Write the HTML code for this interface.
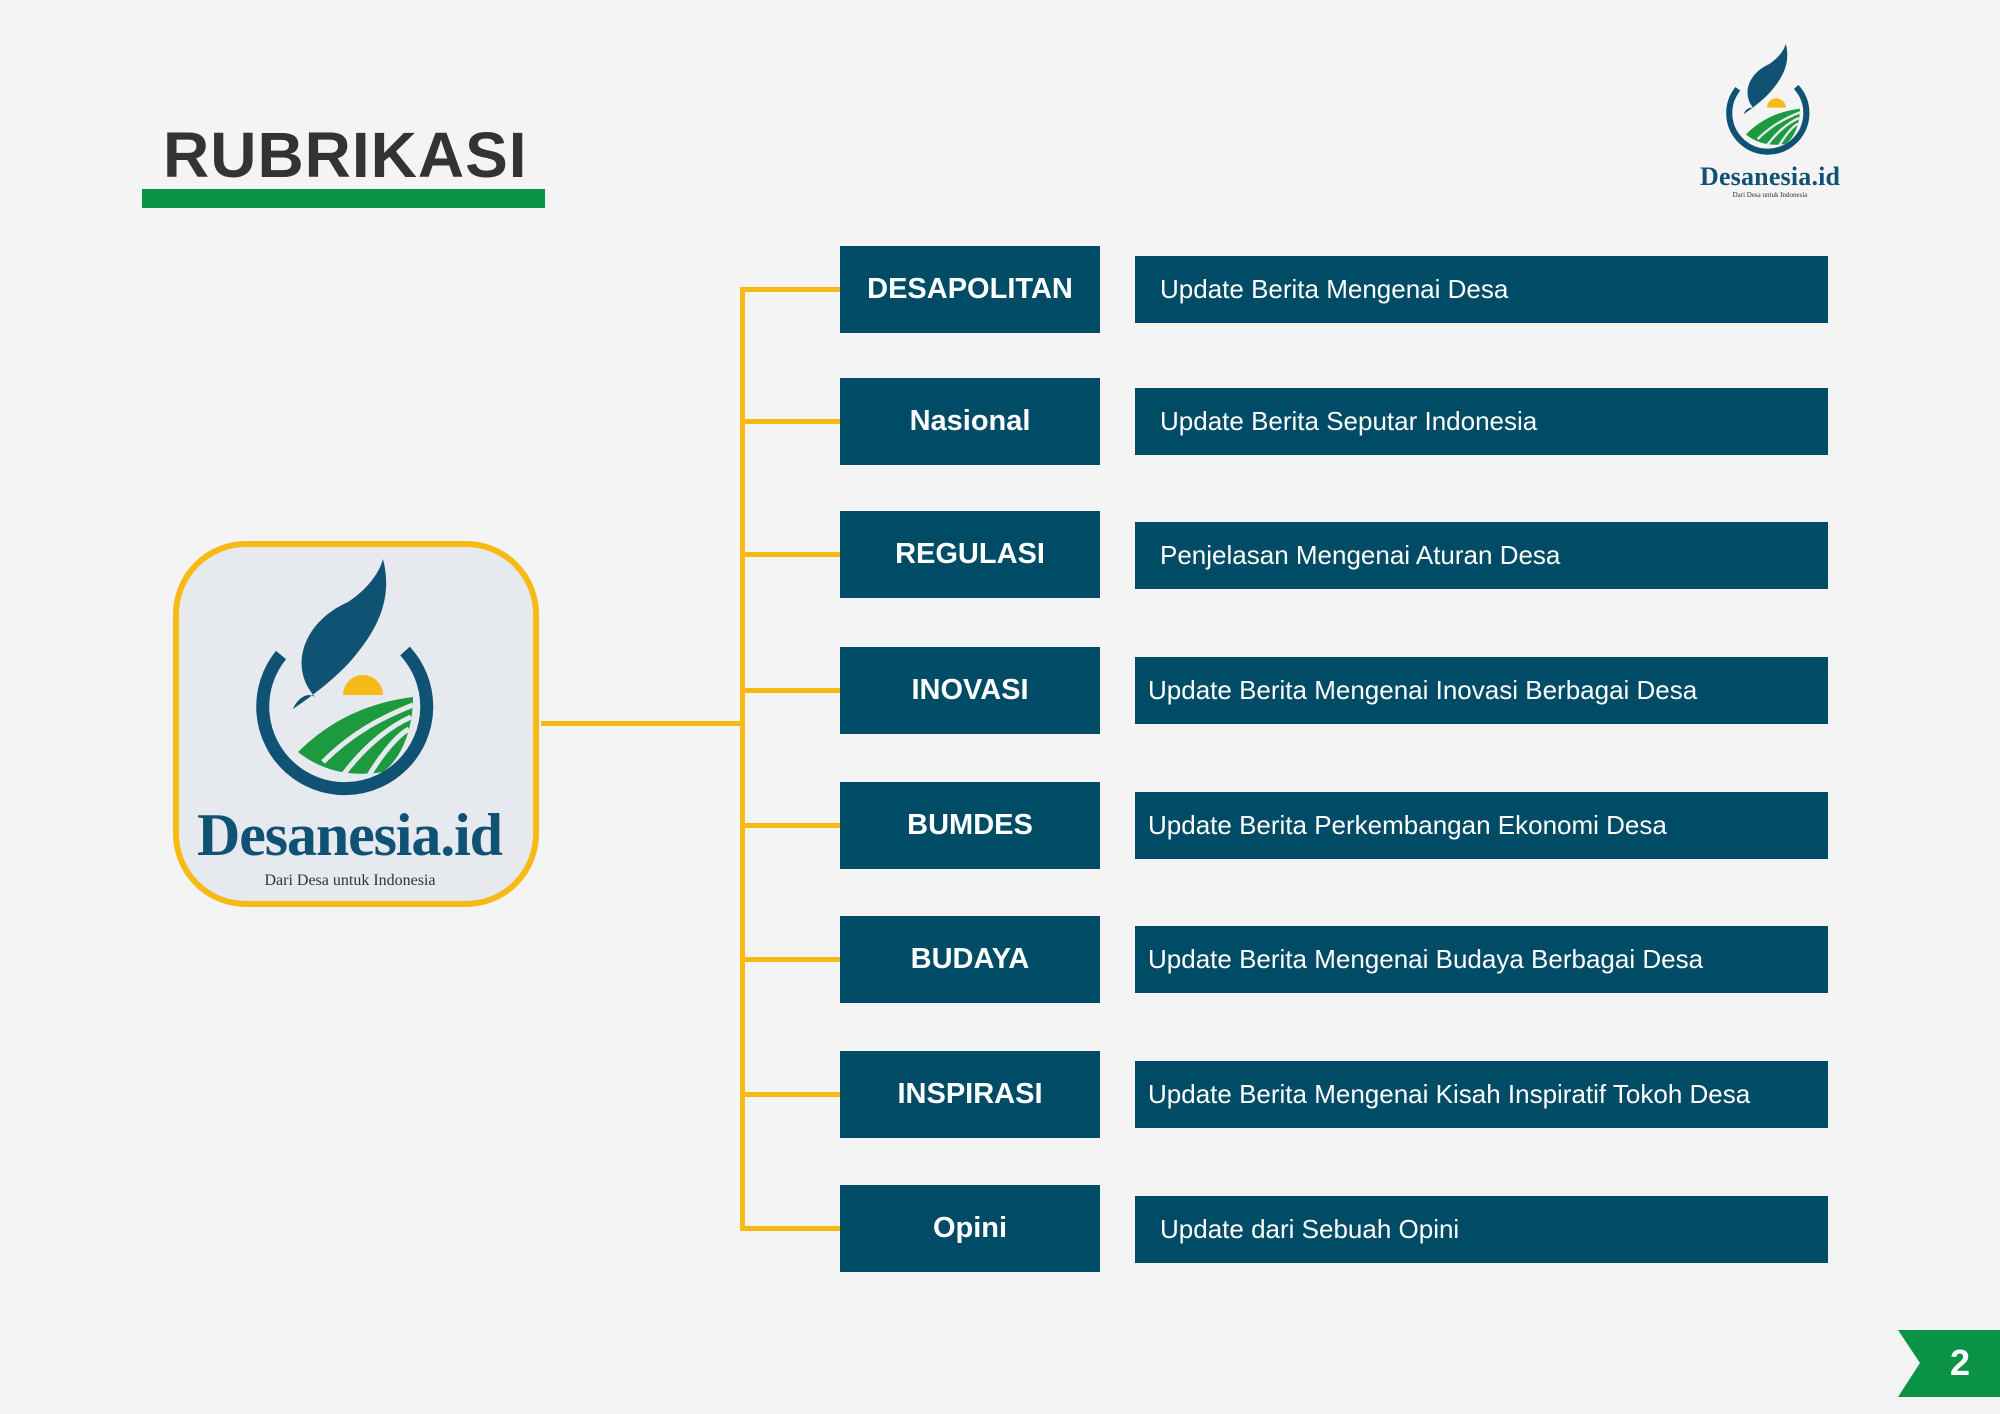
<!DOCTYPE html>
<html><head><meta charset="utf-8"><style>
body{margin:0;width:2000px;height:1414px;background:#f4f4f4;position:relative;overflow:hidden;font-family:"Liberation Sans",sans-serif}
.a{position:absolute}
.l{position:absolute;left:840px;width:260px;height:87px;background:#004b66;color:#fff;font-weight:bold;font-size:29px;display:flex;align-items:center;justify-content:center}
.r{position:absolute;left:1135px;width:693px;height:67px;background:#004b66;color:#fff;font-size:26px;display:flex;align-items:center;box-sizing:border-box;padding-left:25px}
.h{position:absolute;left:743px;width:97px;height:5px;background:#f6b915}
</style></head><body>
<div class="a" style="left:163px;top:118px;font-size:64px;font-weight:bold;color:#333;letter-spacing:1px">RUBRIKASI</div>
<div class="a" style="left:142px;top:189px;width:403px;height:19px;background:#0a9347"></div>

<svg class="a" style="left:0;top:0" width="2000" height="1414">
<defs><g id="lg">
<path d="M-62,-62 A82,82 0 1 0 62,-66" fill="none" stroke="#0f5273" stroke-width="13"/>
<path d="M-28,-20 C-55,-50 -40,-95 5,-115 C20,-125 35,-140 40,-158 C50,-120 35,-90 15,-65 C0,-45 -25,-25 -50,-8 C-45,-20 -35,-25 -28,-20Z" fill="#0f5273"/>
<path d="M0,-22 A20,20 0 0 1 40,-22 Z" fill="#f6b915"/>
<path d="M-45,35 C-10,0 30,-15 70,-20 C70,10 60,40 40,55 C10,60 -20,55 -45,35Z" fill="#1d9a3f"/>
<path d="M-20,45 C10,15 40,0 70,-12 M0,58 C25,25 50,8 68,0 M25,60 C40,35 55,18 66,12" stroke="#e6e9ee" stroke-width="5" fill="none"/>
</g></defs>
<rect x="176" y="544" width="360" height="360" rx="70" fill="#e6e9ee" stroke="#f6b915" stroke-width="6"/>
<use href="#lg" transform="translate(343,717)"/>
<text x="350" y="855" text-anchor="middle" font-family="Liberation Serif,serif" font-size="60" font-weight="bold" fill="#0f5273" textLength="306">Desanesia.id</text>
<text x="350" y="885" text-anchor="middle" font-family="Liberation Serif,serif" font-size="16" fill="#333">Dari Desa untuk Indonesia</text>
<use href="#lg" transform="translate(1767,118) scale(0.47)"/>
<text x="1770" y="185" text-anchor="middle" font-family="Liberation Serif,serif" font-size="26" font-weight="bold" fill="#0f5273" textLength="140">Desanesia.id</text>
<text x="1770" y="197" text-anchor="middle" font-family="Liberation Serif,serif" font-size="7" fill="#333">Dari Desa untuk Indonesia</text>
<rect x="541" y="721" width="204" height="5" fill="#f6b915"/>
<rect x="740" y="287" width="5" height="944" fill="#f6b915"/>
<polygon points="1898,1330 2000,1330 2000,1397 1898,1397 1920,1363" fill="#0a9347"/>
<text x="1960" y="1375" text-anchor="middle" font-size="36" font-weight="bold" fill="#fff" font-family="Liberation Sans,sans-serif">2</text>
</svg>

<div class="h" style="top:287px"></div><div class="h" style="top:419px"></div><div class="h" style="top:552px"></div><div class="h" style="top:688px"></div>
<div class="h" style="top:823px"></div><div class="h" style="top:957px"></div><div class="h" style="top:1092px"></div><div class="h" style="top:1226px"></div>

<div class="l" style="top:246px">DESAPOLITAN</div>
<div class="l" style="top:378px">Nasional</div>
<div class="l" style="top:511px">REGULASI</div>
<div class="l" style="top:647px">INOVASI</div>
<div class="l" style="top:782px">BUMDES</div>
<div class="l" style="top:916px">BUDAYA</div>
<div class="l" style="top:1051px">INSPIRASI</div>
<div class="l" style="top:1185px">Opini</div>

<div class="r" style="top:256px;padding-left:25px">Update Berita Mengenai Desa</div>
<div class="r" style="top:388px;padding-left:25px">Update Berita Seputar Indonesia</div>
<div class="r" style="top:522px;padding-left:25px">Penjelasan Mengenai Aturan Desa</div>
<div class="r" style="top:657px;padding-left:13px">Update Berita Mengenai Inovasi Berbagai Desa</div>
<div class="r" style="top:792px;padding-left:13px">Update Berita Perkembangan Ekonomi Desa</div>
<div class="r" style="top:926px;padding-left:13px">Update Berita Mengenai Budaya Berbagai Desa</div>
<div class="r" style="top:1061px;padding-left:13px">Update Berita Mengenai Kisah Inspiratif Tokoh Desa</div>
<div class="r" style="top:1196px;padding-left:25px">Update dari Sebuah Opini</div>
</body></html>
